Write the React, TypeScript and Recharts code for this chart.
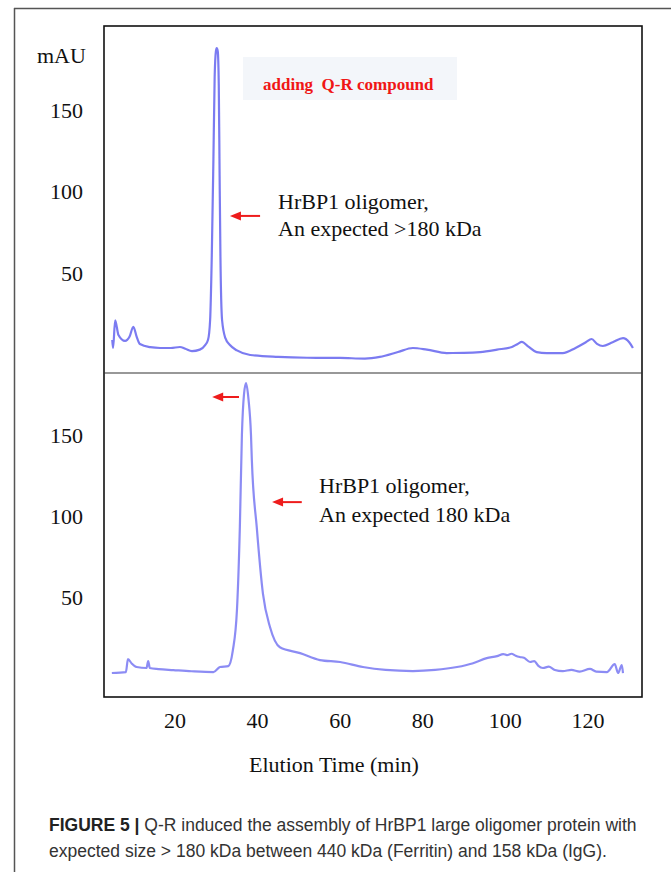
import React from 'react';
import { LineChart, Line, XAxis, YAxis, ReferenceLine } from 'recharts';

// elution time (min) / absorbance (mAU)
const topTime = [4.8, 5.0, 5.5, 6.3, 7.9, 9.0, 9.9, 10.7, 11.5, 14.0, 16.4, 19.0, 21.2, 22.5, 24.1, 26.0, 27.3, 28.0, 28.5, 28.9, 29.3, 29.6, 29.9, 30.1, 30.35, 30.6, 30.8, 31.0, 31.4, 32.2, 33.3, 35.0, 38.2, 45.0, 52.0, 60.0, 66.0, 69.6, 74.0, 77.6, 81.0, 85.8, 90.0, 93.9, 98.0, 101.6, 103.0, 104.0, 105.5, 107.6, 110.0, 113.9, 117.0, 119.5, 120.9, 122.2, 123.6, 126.0, 128.5, 130.0, 130.9];
const topSignal = [9, 4, 21, 12, 8.3, 11, 17, 11, 6.4, 4.5, 4, 4, 4.6, 3.5, 2.1, 3, 5.8, 9, 21, 60, 120, 170, 186, 188, 186, 165, 110, 60, 21, 10, 5.8, 2.5, -0.3, -1.5, -2, -2.1, -2.5, -1.5, 1.5, 4, 3, 0.9, 1, 1.5, 3, 4.6, 6.5, 7.7, 5, 1.5, 0.9, 0.9, 4, 7.5, 9.5, 6.5, 5.2, 7.5, 10, 7.5, 4];

const bottomTime = [4.7, 8.1, 8.6, 9.5, 10.7, 13.1, 13.5, 13.9, 16.0, 19.6, 24.0, 29.3, 30.9, 32.9, 34.0, 35.0, 35.7, 36.2, 36.7, 37.2, 37.8, 38.4, 38.6, 39.8, 41.3, 43.0, 45.4, 50.3, 55.1, 60.0, 65.5, 71.0, 77.6, 83.0, 88.3, 92.0, 95.5, 98.0, 99.5, 100.4, 101.5, 102.5, 103.5, 104.5, 106.0, 107.0, 108.0, 109.1, 110.5, 112.0, 113.9, 116.0, 118.0, 120.5, 122.0, 124.6, 126.5, 127.3, 128.2, 128.5];
const bottomSignal = [3.1, 3.7, 11.7, 9, 6.8, 6.2, 10.5, 6.2, 5.5, 4.9, 4.2, 3.7, 6.8, 7.4, 17, 42, 93, 150, 175, 182, 172, 150, 135, 93, 52, 31.5, 19, 15.4, 11.1, 9.9, 6.8, 5, 4.3, 5, 6.8, 9, 12.3, 13.5, 14.8, 14.2, 15, 13.8, 13, 12.5, 9.9, 10.5, 7.5, 6.2, 7, 5, 4.3, 5, 4, 5.6, 4, 3.7, 8.6, 3.1, 8, 3.1];

const timeTicks = [20, 40, 60, 80, 100, 120];
const mauTicks = [50, 100, 150];

// red arrows: [tip time, tail time, mAU]
const topArrows = [[33.3, 40.6, 85]];
const bottomArrows = [[29.0, 35.5, 173.5], [43.5, 50.7, 108.6]];

const topData = topTime.map((t, i) => ({ t, v: topSignal[i] }));
const bottomData = bottomTime.map((t, i) => ({ t, v: bottomSignal[i] }));

const serif = '"Liberation Serif", "Times New Roman", serif';
const sans = '"Liberation Sans", Arial, sans-serif';
const tickStyle = { fontFamily: serif, fontSize: 22, fill: '#111' };

const Arrow = (props: any) => {
  const { x1, y1, x2, y2 } = props;
  const tipX = Math.min(x1, x2);
  const tailX = Math.max(x1, x2);
  const y = (y1 + y2) / 2;
  return (
    <g>
      <line x1={tipX + 8} y1={y} x2={tailX} y2={y} stroke="#ee1c1c" strokeWidth={2} />
      <polygon points={`${tipX},${y} ${tipX + 11},${y - 4.5} ${tipX + 11},${y + 4.5}`} fill="#ee1c1c" />
    </g>
  );
};

const App: React.FC = () => {
  return (
    <div style={{ position: 'absolute', left: 0, top: 0, width: 671, height: 872, background: '#fff' }}>
      <div style={{ position: 'absolute', left: 0, top: 0 }}>
        <LineChart width={671} height={373} data={topData} margin={{ top: 26, right: 29, bottom: 0, left: 0 }}>
          <XAxis hide type="number" dataKey="t" domain={[2.8, 133.1]} allowDataOverflow />
          <YAxis
            type="number"
            domain={[-11.35, 201.5]}
            ticks={mauTicks}
            width={104}
            tickSize={0}
            tickMargin={21}
            axisLine={false}
            tickLine={false}
            tick={tickStyle}
            allowDataOverflow
          />
          {topArrows.map((a, i) => (
            <ReferenceLine key={i} segment={[{ x: a[0], y: a[2] }, { x: a[1], y: a[2] }]} shape={Arrow} />
          ))}
          <Line type="monotone" dataKey="v" stroke="#6d6df0" strokeWidth={2.2} strokeOpacity={0.9} dot={false} isAnimationActive={false} />
        </LineChart>
      </div>
      <div style={{ position: 'absolute', left: 0, top: 373 }}>
        <LineChart width={671} height={420} data={bottomData} margin={{ top: 0, right: 29, bottom: 0, left: 0 }}>
          <XAxis
            type="number"
            dataKey="t"
            domain={[2.8, 133.1]}
            ticks={timeTicks}
            height={96}
            tickSize={0}
            tickMargin={15}
            axisLine={false}
            tickLine={false}
            tick={tickStyle}
            allowDataOverflow
          />
          <YAxis
            type="number"
            domain={[-11.7, 188.3]}
            ticks={mauTicks}
            width={104}
            tickSize={0}
            tickMargin={21}
            axisLine={false}
            tickLine={false}
            tick={tickStyle}
            allowDataOverflow
          />
          {bottomArrows.map((a, i) => (
            <ReferenceLine key={i} segment={[{ x: a[0], y: a[2] }, { x: a[1], y: a[2] }]} shape={Arrow} />
          ))}
          <Line type="monotone" dataKey="v" stroke="#7f7ff3" strokeWidth={2.2} strokeOpacity={0.9} dot={false} isAnimationActive={false} />
        </LineChart>
      </div>
      <svg width={671} height={872} style={{ position: 'absolute', left: 0, top: 0, pointerEvents: 'none' }}>
        {/* figure frame and plot box */}
        <line x1={14} y1={8.5} x2={671} y2={8.5} stroke="#555" strokeWidth={1.5} />
        <line x1={14.5} y1={8} x2={14.5} y2={872} stroke="#555" strokeWidth={1.5} />
        <rect x={104} y={26} width={538} height={671} fill="none" stroke="#111" strokeWidth={1.6} />
        <line x1={104} y1={373} x2={642} y2={373} stroke="#333" strokeWidth={1.2} />

        <text x={37} y={63} fontFamily={serif} fontSize={22} fill="#111">mAU</text>

        <rect x={243} y={57} width={214} height={43} fill="#f3f6fa" />
        <text x={263} y={90} fontFamily={serif} fontSize={17} fontWeight="bold" fill="#f01616" xmlSpace="preserve">adding  Q-R compound</text>

        <text x={278} y={209} fontFamily={serif} fontSize={22} fill="#111">HrBP1 oligomer,</text>
        <text x={278} y={236} fontFamily={serif} fontSize={22} fill="#111">An expected &gt;180 kDa</text>

        <text x={319} y={493} fontFamily={serif} fontSize={22} fill="#111">HrBP1 oligomer,</text>
        <text x={319} y={522} fontFamily={serif} fontSize={22} fill="#111">An expected 180 kDa</text>

        <text x={249} y={772} fontFamily={serif} fontSize={22} fill="#111">Elution Time (min)</text>

        <text x={49} y={831} fontFamily={sans} fontSize={17.5} fill="#333">
          <tspan fontWeight="bold" fill="#222">FIGURE 5 |</tspan>
          {' Q-R induced the assembly of HrBP1 large oligomer protein with'}
        </text>
        <text x={49} y={857} fontFamily={sans} fontSize={17.5} fill="#333">
          expected size &gt; 180 kDa between 440 kDa (Ferritin) and 158 kDa (IgG).
        </text>
      </svg>
    </div>
  );
};

export default App;
